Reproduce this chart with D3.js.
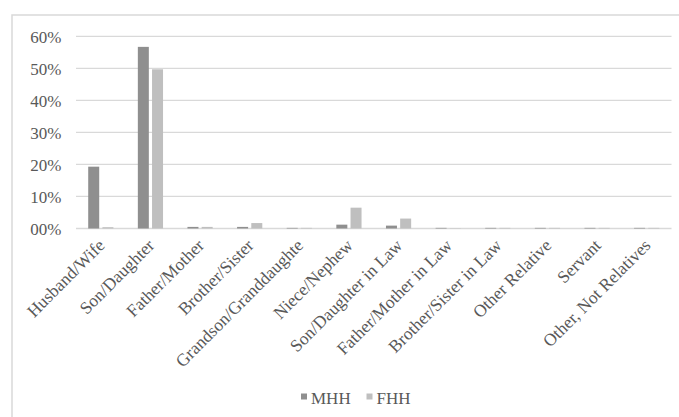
<!DOCTYPE html>
<html>
<head>
<meta charset="utf-8">
<script src="https://cdn.jsdelivr.net/npm/d3@7"></script>
<style>
  html, body { margin: 0; padding: 0; background: #fff; }
  svg { display: block; }
  svg text { font-family: "Liberation Serif", "Times New Roman", Times, serif; fill: #595959; }
</style>
</head>
<body>
<svg id="chart" width="679" height="417"></svg>
<script>
// Relationship to household head, share of members by head type
const categories = [
  "Husband/Wife", "Son/Daughter", "Father/Mother", "Brother/Sister",
  "Grandson/Granddaughte", "Niece/Nephew", "Son/Daughter in Law",
  "Father/Mother in Law", "Brother/Sister in Law", "Other Relative",
  "Servant", "Other, Not Relatives"
];
const seriesNames = ["MHH", "FHH"];
const mhh = [19.3, 56.7, 0.5, 0.5, 0.2, 1.2, 0.9, 0.2, 0.2, 0.2, 0.2, 0.2];
const fhh = [0.4, 49.7, 0.5, 1.7, 0.2, 6.5, 3.1, 0.1, 0.2, 0.2, 0.2, 0.2];
const tickValues = [0, 10, 20, 30, 40, 50, 60];
const tickLabels = ["00%", "10%", "20%", "30%", "40%", "50%", "60%"];
const colors = ["#8f8f8f", "#bfbfbf"];

const svg = d3.select("#chart");

// outer chart frame
svg.append("rect")
  .attr("x", 12).attr("y", 15)
  .attr("width", 700).attr("height", 440)
  .attr("fill", "none")
  .attr("stroke", "#d9d9d9")
  .attr("stroke-width", 1.5);

const plot = { left: 76, right: 671.5, top: 36.3, bottom: 228.5 };

const x = d3.scaleBand()
  .domain(categories)
  .range([plot.left, plot.right])
  .paddingInner(0).paddingOuter(0);

const y = d3.scaleLinear()
  .domain([0, 60])
  .range([plot.bottom, plot.top]);

const barW = 11, innerGap = 3.2;

// gridlines
svg.append("g")
  .selectAll("line")
  .data(tickValues)
  .join("line")
  .attr("x1", plot.left).attr("x2", plot.right)
  .attr("y1", d => y(d)).attr("y2", d => y(d))
  .attr("stroke", "#d9d9d9")
  .attr("stroke-width", 1.3);

// y axis labels
const yAxis = d3.axisLeft(y)
  .tickValues(tickValues)
  .tickFormat((d, i) => tickLabels[i])
  .tickSize(0)
  .tickPadding(0);
const yg = svg.append("g")
  .attr("transform", `translate(61.5,0)`)
  .call(yAxis)
  .attr("font-family", null)
  .attr("font-size", null);
yg.select(".domain").remove();
yg.selectAll("text")
  .attr("dy", "0.34em")
  .style("font-size", "17px")
  .attr("fill", "#595959");

// bars
const series = [mhh, fhh];
series.forEach((vals, s) => {
  svg.append("g")
    .selectAll("rect")
    .data(categories)
    .join("rect")
    .attr("x", (c) => {
      const cx = x(c) + x.bandwidth() / 2;
      return s === 0 ? cx - innerGap / 2 - barW : cx + innerGap / 2;
    })
    .attr("y", (c, i) => y(vals[i]))
    .attr("width", barW)
    .attr("height", (c, i) => y(0) - y(vals[i]))
    .attr("fill", colors[s]);
});

// category labels, rotated
const xAxis = d3.axisBottom(x).tickSize(0).tickPadding(0);
const xg = svg.append("g")
  .attr("transform", `translate(0,${plot.bottom})`)
  .call(xAxis)
  .attr("font-family", null)
  .attr("font-size", null);
xg.select(".domain").remove();
xg.selectAll("text")
  .attr("text-anchor", "end")
  .attr("dy", 0)
  .attr("y", 0)
  .attr("transform", "translate(5,18) rotate(-45)")
  .style("font-size", "17.5px")
  .attr("fill", "#595959");

// legend
const legend = svg.append("g").attr("transform", "translate(301,404)");
const items = legend.selectAll("g")
  .data(seriesNames)
  .join("g")
  .attr("transform", (d, i) => `translate(${i === 0 ? 0 : 65.5},0)`);
items.append("rect")
  .attr("x", 0).attr("y", -10.5)
  .attr("width", 6).attr("height", 6)
  .attr("fill", (d, i) => colors[i]);
items.append("text")
  .attr("x", 10).attr("y", 0)
  .style("font-size", "17px")
  .text(d => d);
</script>
</body>
</html>
